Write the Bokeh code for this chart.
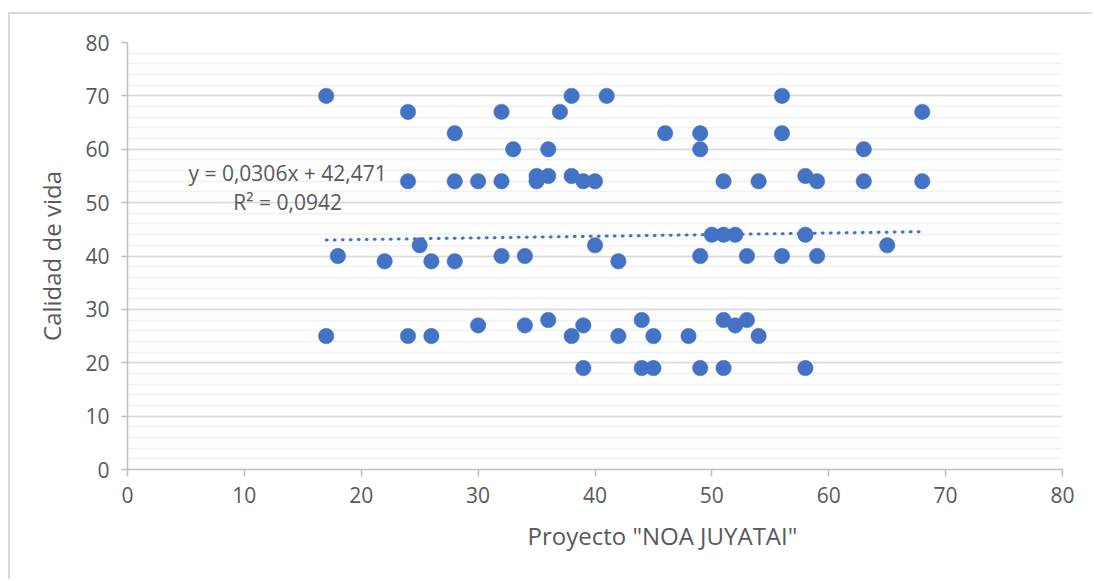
from bokeh.plotting import figure
from bokeh.models import ColumnDataSource, Label, SingleIntervalTicker, Title
from bokeh.embed import file_html
from bokeh.resources import INLINE

# Data
proyecto = [17, 17, 18, 22, 24, 24, 24, 25, 26, 26, 28, 28, 28, 30, 30, 32, 32, 32,
            33, 34, 34, 35, 35, 36, 36, 36, 37, 38, 38, 38, 39, 39, 39, 40, 40, 41,
            42, 42, 44, 44, 45, 45, 46, 48, 49, 49, 49, 49, 50, 51, 51, 51, 51, 52,
            52, 53, 53, 54, 54, 56, 56, 56, 58, 58, 58, 59, 59, 63, 63, 65, 68, 68]
calidad = [70, 25, 40, 39, 67, 54, 25, 42, 39, 25, 63, 54, 39, 54, 27, 67, 54, 40,
           60, 27, 40, 54, 55, 60, 55, 28, 67, 70, 55, 25, 54, 27, 19, 54, 42, 70,
           39, 25, 28, 19, 25, 19, 63, 25, 63, 60, 40, 19, 44, 54, 44, 28, 19, 44,
           27, 40, 28, 54, 25, 70, 63, 40, 55, 44, 19, 54, 40, 60, 54, 42, 67, 54]

slope = 0.0306
intercept = 42.471
trend_x = [min(proyecto), max(proyecto)]
trend_y = [slope * x + intercept for x in trend_x]

eq_text = "y = 0,0306x + 42,471"
r2_text = "R² = 0,0942"
x_title = 'Proyecto "NOA JUYATAI"'
y_title = "Calidad de vida"

FONT = "Open Sans"
TXT = "#595959"
BLUE = "#4472C4"

p = figure(width=1084, height=567, output_backend="svg", toolbar_location=None,
           x_range=(0, 80), y_range=(0, 80),
           min_border_left=117, min_border_right=32, min_border_top=28, min_border_bottom=112)
p.styles = {"border-left": "2px solid #d9d9d9", "border-top": "2px solid #d9d9d9",
            "margin-left": "8px", "margin-top": "12px"}

p.outline_line_color = None
p.background_fill_color = "white"
p.border_fill_color = "white"

src = ColumnDataSource(dict(x=proyecto, y=calidad))
p.line(trend_x, trend_y, line_color=BLUE, line_width=3, line_dash="1 7", line_cap="round")
p.scatter("x", "y", source=src, size=15.5, fill_color=BLUE, line_color=BLUE, line_width=0.5)

p.xaxis.ticker = SingleIntervalTicker(interval=10, num_minor_ticks=0)
p.yaxis.ticker = SingleIntervalTicker(interval=10, num_minor_ticks=5)

p.xgrid.grid_line_color = None
p.ygrid.grid_line_color = "#d9d9d9"
p.ygrid.grid_line_width = 1.5
p.ygrid.minor_grid_line_color = "#f0f0f0"
p.ygrid.minor_grid_line_width = 1.5

for ax in (p.xaxis, p.yaxis):
    ax.axis_line_color = "#bfbfbf"
    ax.axis_line_width = 1.5
    ax.major_tick_line_color = "#bfbfbf"
    ax.major_tick_line_width = 1.5
    ax.major_tick_in = 0
    ax.minor_tick_line_color = None
    ax.major_label_text_font = FONT
    ax.major_label_text_font_size = "21px"
    ax.major_label_text_color = TXT
    ax.axis_label_text_font = FONT
    ax.axis_label_text_font_size = "24px"
    ax.axis_label_text_color = TXT
    ax.axis_label_text_font_style = "normal"

p.xaxis.major_tick_out = 7
p.yaxis.major_tick_out = 6
p.xaxis.major_label_standoff = 10
p.yaxis.major_label_standoff = 12
p.yaxis.axis_label = y_title
p.yaxis.axis_label_standoff = 14

# x-axis title, placed to the right of the frame centre as in the reference
p.add_layout(Title(text=x_title, align="left", offset=400, text_font=FONT,
                   text_font_size="24px", text_color=TXT, text_font_style="normal",
                   standoff=22), "below")

eq_pos = (13.7, 55.6)
r2_pos = (13.7, 50.2)
p.add_layout(Label(x=eq_pos[0], y=eq_pos[1], text=eq_text, text_font=FONT, text_font_size="21px",
                   text_color=TXT, text_align="center", text_baseline="middle"))
p.add_layout(Label(x=r2_pos[0], y=r2_pos[1], text=r2_text, text_font=FONT, text_font_size="21px",
                   text_color=TXT, text_align="center", text_baseline="middle"))

open("out.html", "w").write(file_html(p, INLINE))
